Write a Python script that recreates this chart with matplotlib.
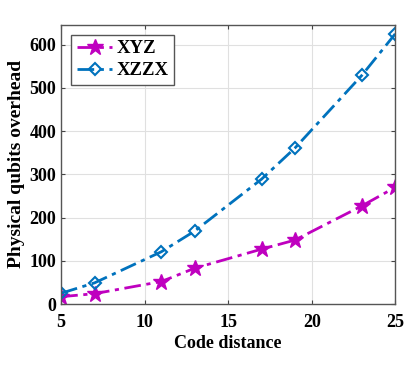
import matplotlib.pyplot as plt

distance = [5, 7, 11, 13, 17, 19, 23, 25]
xyz = [17, 24, 52, 83, 127, 148, 227, 270]
xzzx = [25, 49, 121, 169, 289, 361, 529, 625]

plt.rcParams['font.family'] = 'Liberation Serif'
plt.rcParams['font.weight'] = 'bold'

fig, ax = plt.subplots(figsize=(4.16, 3.65), dpi=100)
fig.subplots_adjust(left=0.147, right=0.95, top=0.932, bottom=0.167)

ax.plot(distance, xyz, marker='*', markersize=12, linestyle='-.', linewidth=2,
        color='#bf00bf', label='XYZ', dashes=(6, 2, 1.5, 2))
ax.plot(distance, xzzx, marker='D', markersize=6, markerfacecolor='none', markeredgewidth=1.5,
        linestyle='-.', linewidth=2, color='#0072bd', label='XZZX', dashes=(6, 2, 1.5, 2))

ax.set_xlim(5, 25)
ax.set_ylim(0, 646)
ax.set_xticks([5, 10, 15, 20, 25])
ax.set_yticks([0, 100, 200, 300, 400, 500, 600])
ax.tick_params(direction='in', top=True, right=True, labelsize=13, length=3, color='#444444')
ax.tick_params(axis='x', pad=7)
ax.grid(True, color='#e0e0e0', linewidth=0.8)
ax.set_axisbelow(True)
for s in ax.spines.values():
    s.set_color('#555555')
    s.set_linewidth(1)

ax.set_xlabel('Code distance', fontsize=13, fontweight='bold', labelpad=3)
ax.set_ylabel('Physical qubits overhead', fontsize=14, fontweight='bold', labelpad=3)

leg = ax.legend(loc='upper left', fontsize=13.5, handlelength=1.9, handletextpad=0.2,
                borderpad=0.3, labelspacing=0.25, fancybox=False, framealpha=1,
                borderaxespad=0, bbox_to_anchor=(0.03, 0.965))
leg.get_frame().set_edgecolor('#555555')
leg.get_frame().set_linewidth(1)

fig.savefig('out.png')
